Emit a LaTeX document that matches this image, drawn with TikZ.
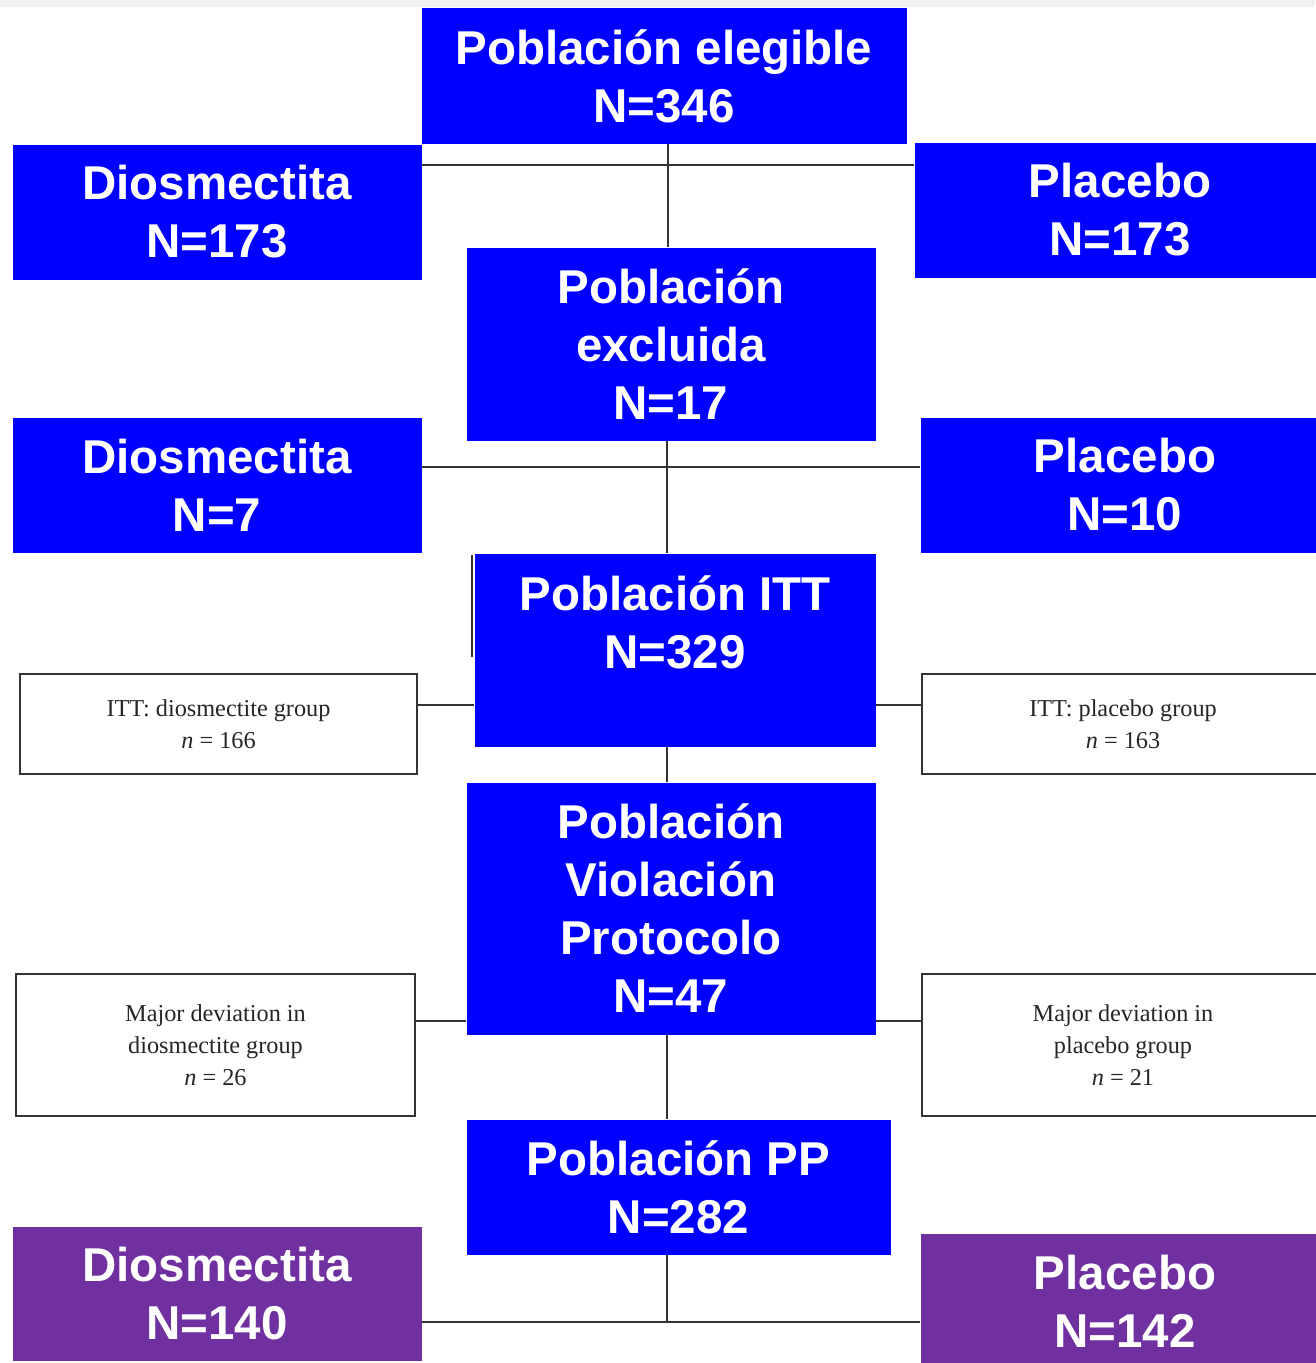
\documentclass[tikz,border=0pt]{standalone}
\usepackage{fontspec}
\setmainfont{Liberation Serif}
\setsansfont{Liberation Sans}
\definecolor{popblue}{RGB}{0,0,255}
\definecolor{armpurple}{RGB}{112,48,160}
\definecolor{linegrey}{RGB}{51,51,51}
\tikzset{every picture/.style={line width=0.75pt}}
\tikzset{
  popbox/.style={fill=popblue, text=white, inner sep=0pt, align=center, anchor=north west,
    font=\sffamily\bfseries\fontsize{35.6}{43.5}\selectfont},
  armbox/.style={popbox, fill=armpurple},
  notebox/.style={draw=linegrey, line width=1.5pt, fill=white, text=black!85, inner sep=0pt,
    align=center, anchor=north west, font=\fontsize{18.2}{24}\selectfont},
  link/.style={draw=linegrey, line width=1.5pt},
}

\begin{document}
\begin{tikzpicture}[x=0.75pt,y=0.75pt,yscale=-1,xscale=1]
\useasboundingbox (0,0) rectangle (1315,1363);
%top strip
\fill[gray!12] (0,0) rectangle (1315,7);

%Shape: Rectangle (blue population boxes)
\node [popbox, minimum width=363.75pt, minimum height=101.25pt] (elig) at (421,8) {Población elegible\\N=346};
\node [popbox, minimum width=306.75pt, minimum height=144.75pt] (excl) at (466,247) {Población\\excluida\\N=17};
\node [popbox, minimum width=300.75pt, minimum height=144.75pt] (itt) at (474,553) {Población ITT\\N=329\\[-14pt]\strut};
\node [popbox, minimum width=306.75pt, minimum height=189pt] (viol) at (466,782) {Población\\Violación\\Protocolo\\N=47};
\node [popbox, minimum width=318pt, minimum height=101.25pt] (pp) at (466,1119) {Población PP\\N=282};

%Shape: Rectangle (arms)
\node [popbox, minimum width=306.75pt, minimum height=101.25pt] (dio1) at (12,144) {Diosmectita\\N=173};
\node [popbox, minimum width=308.25pt, minimum height=101.25pt] (pla1) at (914,142) {Placebo\\N=173};
\node [popbox, minimum width=306.75pt, minimum height=101.25pt] (dio2) at (12,417) {Diosmectita\\N=7};
\node [popbox, minimum width=306.75pt, minimum height=101.25pt] (pla2) at (920,417) {Placebo\\N=10};
\node [armbox, minimum width=306.75pt, minimum height=100.5pt] (dio3) at (12,1226) {Diosmectita\\N=140};
\node [armbox, minimum width=306.75pt, minimum height=101.25pt] (pla3) at (920,1233) {Placebo\\N=142};

%Shape: Rectangle (white boxes)
\node [notebox, minimum width=297.75pt, minimum height=75pt] (ittd) at (19,673) {ITT: diosmectite group\\\textit{n} = 166};
\node [notebox, minimum width=301.5pt, minimum height=75pt] (ittp) at (921,673) {ITT: placebo group\\\textit{n} = 163};
\node [notebox, minimum width=299.25pt, minimum height=106.5pt] (majd) at (15,973) {Major deviation in\\diosmectite group\\\textit{n} = 26};
\node [notebox, minimum width=301.5pt, minimum height=106.5pt] (majp) at (921,973) {Major deviation in\\placebo group\\\textit{n} = 21};

%junctions
\coordinate (j1) at (668,165);
\coordinate (j2) at (667,467);
\coordinate (j3) at (667,705);
\coordinate (j4) at (667,1021);
\coordinate (j5) at (667,1322);

%Straight Lines
\draw [link] (dio1.east |- j1) -- (pla1.west |- j1);
\draw [link] (elig.south -| j1) -- (excl.north -| j1);
\draw [link] (dio2.east |- j2) -- (pla2.west |- j2);
\draw [link] (excl.south -| j2) -- (itt.north -| j2);
\draw [link] (ittd.east |- j3) -- (itt.west |- j3);
\draw [link] (itt.east |- j3) -- (ittp.west |- j3);
\draw [link] (itt.south -| j3) -- (viol.north -| j3);
\draw [link] (majd.east |- j4) -- (viol.west |- j4);
\draw [link] (viol.east |- j4) -- (majp.west |- j4);
\draw [link] (viol.south -| j4) -- (pp.north -| j4);
\draw [link] (pp.south -| j5) -- (j5);
\draw [link] (dio3.east |- j5) -- (pla3.west |- j5);
%left edge left over beside ITT
\draw [linegrey, line width=1.2pt] (472,555) -- (472,657);
\end{tikzpicture}
\end{document}
